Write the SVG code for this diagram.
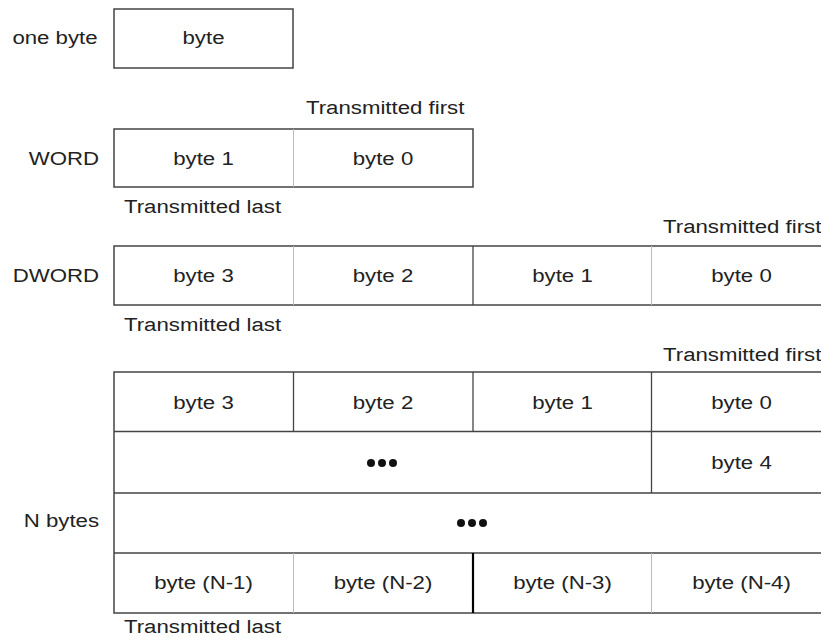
<svg xmlns="http://www.w3.org/2000/svg" width="821" height="642" viewBox="0 0 821 642">
  <style>
    .frame { fill: #ffffff; stroke: #444444; stroke-width: 1.5; }
    .dark { stroke: #444444; stroke-width: 1.3; }
    .light { stroke: #bbbbbb; stroke-width: 1; }
    .heavy { stroke: #000000; stroke-width: 2.2; }
    text { font-family: "Liberation Sans", Arial, sans-serif; font-size: 19px; fill: #222222; }
    .c { text-anchor: middle; }
    .r { text-anchor: end; }
    .dot { fill: #111111; }
  </style>
  <rect width="821" height="642" fill="#ffffff"/>

  <!-- one byte -->
  <g id="one-byte">
    <rect class="frame" x="114" y="9" width="179" height="59"/>
    <g transform="scale(1.17 1)">
      <text class="c" x="47.01" y="44">one byte</text>
      <text class="c" x="173.93" y="44">byte</text>
    </g>
  </g>

  <!-- WORD -->
  <g id="word">
    <rect class="frame" x="114" y="129" width="359" height="58"/>
    <line class="light" x1="293.5" y1="129" x2="293.5" y2="187"/>
    <g transform="scale(1.17 1)">
      <text x="261.54" y="114">Transmitted first</text>
      <text class="r" x="84.62" y="165">WORD</text>
      <text class="c" x="173.93" y="165">byte 1</text>
      <text class="c" x="327.35" y="165">byte 0</text>
      <text x="105.98" y="213">Transmitted last</text>
    </g>
  </g>

  <!-- DWORD -->
  <g id="dword">
    <rect class="frame" x="114" y="246" width="718" height="59"/>
    <line class="light" x1="293.5" y1="246" x2="293.5" y2="305"/>
    <line class="dark" x1="473" y1="246" x2="473" y2="305"/>
    <line class="light" x1="651.5" y1="246" x2="651.5" y2="305"/>
    <g transform="scale(1.17 1)">
      <text x="566.67" y="233">Transmitted first</text>
      <text class="r" x="84.62" y="282">DWORD</text>
      <text class="c" x="173.93" y="282">byte 3</text>
      <text class="c" x="327.35" y="282">byte 2</text>
      <text class="c" x="480.77" y="282">byte 1</text>
      <text class="c" x="633.76" y="282">byte 0</text>
      <text x="105.98" y="331">Transmitted last</text>
    </g>
  </g>

  <!-- N bytes -->
  <g id="n-bytes">
    <rect class="frame" x="114" y="372" width="718" height="241"/>
    <!-- row separators -->
    <line class="dark" x1="114" y1="431.5" x2="832" y2="431.5"/>
    <line class="dark" x1="114" y1="493" x2="832" y2="493"/>
    <line class="dark" x1="114" y1="553" x2="832" y2="553"/>
    <!-- row 1 cells -->
    <line class="dark" x1="293.5" y1="372" x2="293.5" y2="431.5"/>
    <line class="dark" x1="473" y1="372" x2="473" y2="431.5"/>
    <line class="dark" x1="651.5" y1="372" x2="651.5" y2="431.5"/>
    <!-- row 2 cell -->
    <line class="dark" x1="651.5" y1="431.5" x2="651.5" y2="493"/>
    <!-- row 4 cells -->
    <line class="light" x1="293.5" y1="553" x2="293.5" y2="613"/>
    <line class="heavy" x1="473" y1="553" x2="473" y2="613"/>
    <line class="light" x1="651.5" y1="553" x2="651.5" y2="613"/>
    <!-- ellipsis dots -->
    <circle class="dot" cx="371" cy="463" r="4"/>
    <circle class="dot" cx="382" cy="463" r="4"/>
    <circle class="dot" cx="393" cy="463" r="4"/>
    <circle class="dot" cx="461" cy="523" r="4"/>
    <circle class="dot" cx="472" cy="523" r="4"/>
    <circle class="dot" cx="483" cy="523" r="4"/>
    <g transform="scale(1.17 1)">
      <text x="566.67" y="361">Transmitted first</text>
      <text class="c" x="173.93" y="409">byte 3</text>
      <text class="c" x="327.35" y="409">byte 2</text>
      <text class="c" x="480.77" y="409">byte 1</text>
      <text class="c" x="633.76" y="409">byte 0</text>
      <text class="c" x="633.76" y="469">byte 4</text>
      <text class="r" x="84.62" y="527">N bytes</text>
      <text class="c" x="173.93" y="589">byte (N-1)</text>
      <text class="c" x="327.35" y="589">byte (N-2)</text>
      <text class="c" x="480.77" y="589">byte (N-3)</text>
      <text class="c" x="633.76" y="589">byte (N-4)</text>
      <text x="105.98" y="633">Transmitted last</text>
    </g>
  </g>
</svg>
